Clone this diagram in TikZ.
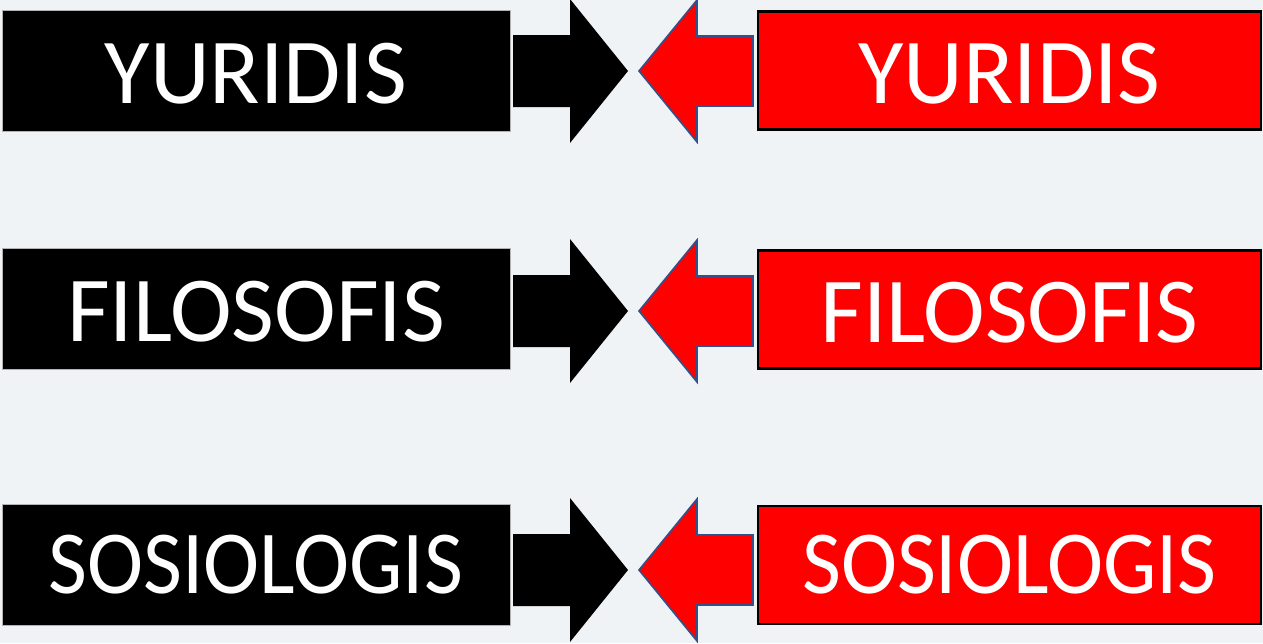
\documentclass[tikz,border=0pt]{standalone}
\usepackage{fontspec}
\setmainfont{Carlito}
\usepackage{xcolor}
\definecolor{bgpale}{RGB}{240,243,245}
\definecolor{hukred}{RGB}{255,0,0}
\definecolor{hukblue}{RGB}{47,82,143}

\tikzset{
  blackbox/.style={fill=black,draw=gray!60,line width=0.6pt,inner sep=0pt,minimum width=508pt,minimum height=121pt,text=white,font=\fontsize{93}{93}\selectfont},
  redbox/.style={fill=hukred,draw=black,line width=2.2pt,inner sep=0pt,minimum width=503pt,minimum height=118pt,text=white,font=\fontsize{93}{93}\selectfont},
  smalltxt/.style={font=\fontsize{90}{90}\selectfont},
  blkarrow/.style={fill=black},
  redarrow/.style={fill=hukred,draw=hukblue,line width=1.6pt,line join=miter}
}
\newcommand{\turun}[1]{\raisebox{-3pt}[\height][\depth]{#1}}

\begin{document}
\begin{tikzpicture}[x=1pt,y=-1pt]
% latar
\useasboundingbox (0,0) rectangle (1263,643);
\fill[bgpale] (0,0) rectangle (1263,643);

% kotak hitam (kiri)
\node[blackbox] (yurL) at (256,70.5) {\turun{YURIDIS}};
\node[blackbox] (filL) at (256,309) {\turun{FILOSOFIS}};
\node[blackbox,smalltxt] (sosL) at (256,565) {\scalebox{0.94}[1]{SOSIOLOGIS}};

% kotak merah (kanan)
\node[redbox] (yurR) at (1009.5,70.5) {\turun{YURIDIS}};
\node[redbox] (filR) at (1009.5,309.5) {\turun{FILOSOFIS}};
\node[redbox,smalltxt] (sosR) at (1009.5,565) {\scalebox{0.94}[1]{SOSIOLOGIS}};

% panah hitam ke kanan
\fill[blkarrow] (513,35) -- (570,35) -- (570,-1) -- (628,71) -- (570,143) -- (570,107) -- (513,107) -- cycle;
\fill[blkarrow] (513,275) -- (570,275) -- (570,239) -- (628,311) -- (570,383) -- (570,347) -- (513,347) -- cycle;
\fill[blkarrow] (513,534) -- (570,534) -- (570,498) -- (628,570) -- (570,642) -- (570,606) -- (513,606) -- cycle;

% panah merah ke kiri
\draw[redarrow] (639,71) -- (697,0) -- (697,36) -- (753,36) -- (753,106) -- (697,106) -- (697,142) -- cycle;
\draw[redarrow] (639,311) -- (697,240) -- (697,276) -- (753,276) -- (753,346) -- (697,346) -- (697,382) -- cycle;
\draw[redarrow] (639,570) -- (697,499) -- (697,535) -- (753,535) -- (753,605) -- (697,605) -- (697,641) -- cycle;
\end{tikzpicture}
\end{document}
